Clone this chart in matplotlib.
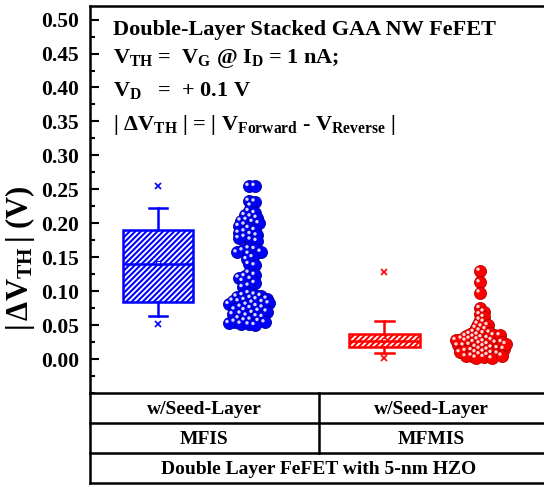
import numpy as np
import matplotlib
matplotlib.use("Agg")
import matplotlib.pyplot as plt
from matplotlib.lines import Line2D
from matplotlib.ticker import MultipleLocator, FormatStrFormatter
import matplotlib.transforms as mtransforms

plt.rcParams['font.family'] = ['Liberation Serif', 'DejaVu Serif']
plt.rcParams['font.weight'] = 'bold'
plt.rcParams['mathtext.fontset'] = 'custom'
plt.rcParams['mathtext.rm'] = 'Liberation Serif:bold'
plt.rcParams['mathtext.it'] = 'Liberation Serif:bold'
plt.rcParams['mathtext.bf'] = 'Liberation Serif:bold'
plt.rcParams['hatch.linewidth'] = 1.5

# ---------------- data ----------------
groups = ["MFIS", "MFMIS"]
seed_labels = ["w/Seed-Layer", "w/Seed-Layer"]
bottom_label = "Double Layer FeFET with 5-nm HZO"
colors = ["#0000ff", "#ff0000"]

mfis_values = [0.255, 0.255,
               0.233, 0.232, 0.226,
               0.218, 0.215, 0.212, 0.210, 0.208, 0.205, 0.204, 0.202, 0.200,
               0.198, 0.196, 0.193, 0.190, 0.188, 0.186, 0.184, 0.182, 0.180,
               0.178, 0.176, 0.174,
               0.163, 0.162, 0.160, 0.158, 0.157, 0.155, 0.150, 0.147, 0.140, 0.138,
               0.127, 0.124, 0.122, 0.120, 0.118, 0.115, 0.112, 0.108, 0.106,
               0.097, 0.095, 0.094, 0.093, 0.092, 0.090, 0.089, 0.088, 0.087,
               0.086, 0.085, 0.084, 0.083, 0.082, 0.081, 0.080, 0.078, 0.077,
               0.076, 0.075, 0.073, 0.072, 0.071, 0.070, 0.068, 0.067, 0.066,
               0.064, 0.063, 0.062, 0.060, 0.058, 0.057, 0.056, 0.055, 0.054,
               0.053, 0.052, 0.051, 0.050]

mfmis_values = [0.130, 0.113, 0.098,
                0.075, 0.070, 0.066, 0.062, 0.058, 0.055, 0.052, 0.050, 0.048,
                0.046, 0.044, 0.042, 0.040, 0.039, 0.038, 0.037, 0.036, 0.035,
                0.034, 0.033, 0.032, 0.031, 0.030, 0.029, 0.028, 0.027, 0.026,
                0.025, 0.024, 0.023, 0.022, 0.021, 0.020, 0.019, 0.018, 0.017,
                0.016, 0.015, 0.014, 0.013, 0.012, 0.011, 0.010, 0.009, 0.008,
                0.007, 0.006, 0.005, 0.004, 0.003, 0.002, 0.001,
                0.035, 0.030, 0.025, 0.020, 0.015, 0.010, 0.005, 0.028, 0.022]

# box statistics
box_q1 = [0.084, 0.018]
box_med = [0.140, 0.026]
box_q3 = [0.190, 0.037]
box_wlo = [0.063, 0.009]
box_whi = [0.222, 0.056]
box_mean = [0.142, 0.028]
box_min = [0.052, 0.001]
box_max = [0.255, 0.128]

# ---------------- figure ----------------
W, H = 544, 487
fig = plt.figure(figsize=(W / 100, H / 100), dpi=100)
ax_l, ax_r, ax_t, ax_b = 90, 543, 6, 393
ax = fig.add_axes([ax_l / W, 1 - ax_b / H, (ax_r - ax_l) / W, (ax_b - ax_t) / H])

ylo, yhi = -0.05, 0.52
xlo, xhi = 0.5, 2.5
ax.set_ylim(ylo, yhi)
ax.set_xlim(xlo, xhi)

cats = np.arange(1, len(groups) + 1)
box_pos = cats - 0.2
sw_pos = cats + np.array([0.2, 0.22])

stats = []
for i in range(len(groups)):
    stats.append(dict(med=box_med[i], q1=box_q1[i], q3=box_q3[i],
                      whislo=box_wlo[i], whishi=box_whi[i], fliers=[], mean=box_mean[i]))

for i in range(len(groups)):
    c = colors[i]
    bp = ax.bxp([stats[i]], positions=[box_pos[i]], widths=0.31, patch_artist=True,
                showfliers=False, showmeans=False,
                boxprops=dict(facecolor='white', edgecolor=c, linewidth=1.8, hatch='//////'),
                medianprops=dict(color=c, linewidth=1.8),
                whiskerprops=dict(color=c, linewidth=1.8),
                capprops=dict(color=c, linewidth=1.8), capwidths=0.08)
    ax.plot([box_pos[i]], [box_mean[i]], marker='s', ms=2.5, color=c, mfc='white', mew=0.8)
    ax.plot([box_pos[i], box_pos[i]], [box_min[i], box_max[i]], ls='none',
            marker='x', ms=4, mew=1.2, color=c)

# swarm layout (deterministic)
ypp = (ax_b - ax_t) / (yhi - ylo)
xpp = (ax_r - ax_l) / (xhi - xlo)


def swarm(vals, min_px=4.2, step_px=2.0):
    placed = []
    out = []
    order = [0]
    for j in range(1, 40):
        order += [j, -j]
    for v in vals:
        yp = v * ypp
        for k in order:
            xp = k * step_px
            ok = True
            for (px, py) in placed:
                if (xp - px) ** 2 + (yp - py) ** 2 < min_px ** 2:
                    ok = False
                    break
            if ok:
                break
        placed.append((xp, yp))
        out.append(xp / xpp)
    return np.array(out)


hl_off = mtransforms.ScaledTranslation(-1.6 / 100, 1.6 / 100, fig.dpi_scale_trans)
swarm_min = [5.0, 4.4]
for i, vals in enumerate([mfis_values, mfmis_values]):
    c = colors[i]
    dark = '#0000a0' if i == 0 else '#b00000'
    hl = '#d8d8ff' if i == 0 else '#ffd8d8'
    xs = sw_pos[i] + swarm(vals, min_px=swarm_min[i])
    ax.scatter(xs, vals, s=75, color=c, edgecolors=dark, linewidths=0.6, zorder=3)
    ax.scatter(xs, vals, s=6, color=hl, edgecolors='none', zorder=4,
               transform=ax.transData + hl_off)

# axes styling
ax.yaxis.set_major_locator(MultipleLocator(0.05))
ax.yaxis.set_minor_locator(MultipleLocator(0.025))
ax.yaxis.set_major_formatter(FormatStrFormatter('%.2f'))
ax.set_yticks(np.arange(0, 0.5001, 0.05))
ax.tick_params(axis='y', which='major', direction='in', length=6.5, width=1.5,
               labelsize=15.5, pad=8)
ax.tick_params(axis='y', which='minor', direction='in', length=3.5, width=1.5)
ax.set_xticks([])
for lab in ax.get_yticklabels():
    lab.set_fontweight('bold')
for s in ['left', 'top', 'bottom']:
    ax.spines[s].set_linewidth(1.8)
ax.spines['right'].set_visible(False)

fig.text(20 / W, 1 - 258 / H, r'$|\,\Delta \mathrm{V_{TH}}\,|$ (V)', rotation=90,
         ha='center', va='center', fontsize=22, fontweight='bold')

# annotation text
tx = 113
fs_ann = 16
ax.text(tx / W, 1 - 35 / H, 'Double-Layer Stacked GAA NW FeFET', transform=fig.transFigure,
        fontsize=fs_ann, fontweight='bold', va='baseline')
ax.text(tx / W, 1 - 63 / H, r'$\mathrm{V_{TH}}$ =  $\mathrm{V_{G}}$ @ $\mathrm{I_{D}}$ = 1 nA;',
        transform=fig.transFigure, fontsize=fs_ann, fontweight='bold', va='baseline')
ax.text(tx / W, 1 - 96 / H, r'$\mathrm{V_{D}}$   =  + 0.1 V', transform=fig.transFigure,
        fontsize=fs_ann, fontweight='bold', va='baseline')
ax.text(tx / W, 1 - 130 / H,
        r'| $\Delta\mathrm{V_{TH}}$ | = | $\mathrm{V_{Forward}}$ - $\mathrm{V_{Reverse}}$ |',
        transform=fig.transFigure, fontsize=fs_ann, fontweight='bold', va='baseline')

# table below the axes
def fx(x):
    return x / W


def fy(y):
    return 1 - y / H


lw = 1.8
for yrow in [423, 453, 483]:
    fig.add_artist(Line2D([fx(90), fx(544)], [fy(yrow), fy(yrow)], color='black', lw=lw))
fig.add_artist(Line2D([fx(90), fx(90)], [fy(393), fy(483)], color='black', lw=lw))
fig.add_artist(Line2D([fx(319), fx(319)], [fy(393), fy(453)], color='black', lw=lw))

col_centers = [204, 431]
for i in range(len(groups)):
    fig.text(fx(col_centers[i]), fy(409), seed_labels[i], ha='center', va='center',
             fontsize=14, fontweight='bold')
    fig.text(fx(col_centers[i]), fy(439), groups[i], ha='center', va='center',
             fontsize=14, fontweight='bold')
fig.text(fx(319), fy(469), bottom_label, ha='center', va='center', fontsize=14,
         fontweight='bold')

fig.savefig('out.png', dpi=100)
